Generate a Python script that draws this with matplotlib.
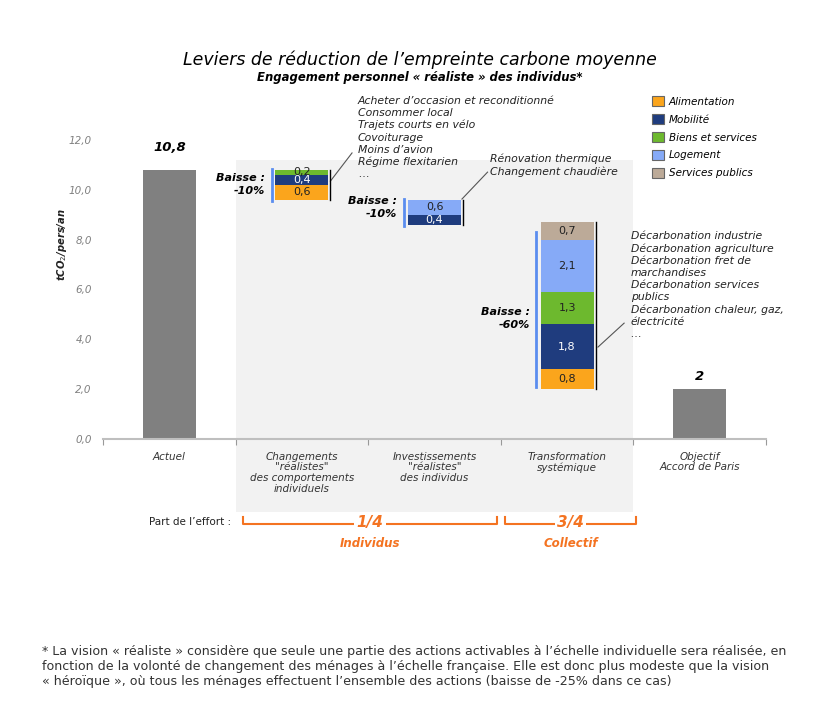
import matplotlib.pyplot as plt
from matplotlib.patches import Rectangle, Patch
import numpy as np

plt.rcParams['font.family'] = ['DejaVu Sans']

# data
categories = ['Actuel', 'Changements\n"réalistes"\ndes comportements\nindividuels',
              'Investissements\n"réalistes"\ndes individus', 'Transformation\nsystémique',
              'Objectif\nAccord de Paris']
actuel = 10.8
objectif = 2.0
sectors = ['Alimentation', 'Mobilité', 'Biens et services', 'Logement', 'Services publics']
colors = ['#FBA51C', '#1F3C7E', '#6DB92E', '#86AAF7', '#BCAA98']
text_colors = ['#222222', 'white', '#222222', '#222222', '#222222']
changements = [0.6, 0.4, 0.2, 0.0, 0.0]
investissements = [0.0, 0.4, 0.0, 0.6, 0.0]
transformation = [0.8, 1.8, 1.3, 2.1, 0.7]
baisse_labels = ['Baisse :\n-10%', 'Baisse :\n-10%', 'Baisse :\n-60%']
notes = [
    'Acheter d\u2019occasion et reconditionné\nConsommer local\nTrajets courts en vélo\n'
    'Covoiturage\nMoins d\u2019avion\nRégime flexitarien\n\u2026',
    'Rénovation thermique\nChangement chaudière',
    'Décarbonation industrie\nDécarbonation agriculture\nDécarbonation fret de\nmarchandises\n'
    'Décarbonation services\npublics\nDécarbonation chaleur, gaz,\nélectricité\n\u2026',
]

fig = plt.figure(figsize=(8.3, 7.16), dpi=100)
ax = fig.add_axes([103 / 830, 1 - 439 / 716, 663 / 830, 299 / 716])
ax.set_xlim(-0.5, 4.5)
ax.set_ylim(0, 12)
width = 0.4

# grey background behind the three levers
ax.add_patch(Rectangle((0.5, -2.93), 3, 14.13, facecolor='#F2F2F2',
                       edgecolor='none', zorder=0, clip_on=False))

# totals
ax.bar([0, 4], [actuel, objectif], width, color='#808080', zorder=2)
for x, v, off in [(0, actuel, 0.65), (4, objectif, 0.25)]:
    ax.text(x, v + off, f'{v:g}'.replace('.', ','), ha='center', va='bottom',
            fontsize=9.5, fontweight='bold', fontstyle='italic', color='black')

# waterfall stacks
stacks = [changements, investissements, transformation]
tops = [actuel, actuel - sum(changements), objectif + sum(transformation)]
bottoms = [actuel - sum(changements), actuel - sum(changements) - sum(investissements), objectif]
for k, vals in enumerate(stacks):
    i = k + 1
    base = bottoms[k]
    for s, v in enumerate(vals):
        if v <= 0:
            continue
        ax.bar(i, v, width, bottom=base, color=colors[s], zorder=2)
        ax.text(i, base + v / 2, f'{v:.1f}'.replace('.', ','), ha='center', va='center',
                fontsize=8, color=text_colors[s], zorder=3)
        base += v

# blue brackets, labels, black lines and leaders
label_y = [10.2, 9.3, 4.85]
for k in range(3):
    i = k + 1
    b, t = bottoms[k], tops[k]
    if k == 2:
        ax.plot([i - 0.235, i - 0.235], [b + 0.1, t - 0.4], color='#5B8DEF', lw=2, zorder=3)
    else:
        ax.plot([i - 0.228, i - 0.228], [b - 0.05, t + 0.05], color='#5B8DEF', lw=2, zorder=3)
    ax.text(i - 0.28, label_y[k], baisse_labels[k], ha='right', va='center',
            multialignment='right', fontsize=8, fontweight='bold', fontstyle='italic',
            linespacing=1.35)
    ax.plot([i + 0.215, i + 0.215], [b, t], color='black', lw=1, zorder=3)

ax.plot([1.215, 1.378], [10.35, 11.48], color='#555555', lw=0.8, clip_on=False)
ax.plot([2.207, 2.40], [9.63, 10.71], color='#555555', lw=0.8, clip_on=False)
ax.plot([3.233, 3.43], [3.69, 4.65], color='#555555', lw=0.8, clip_on=False)

for (x, y), txt in zip([(1.423, 13.78), (2.418, 11.45), (3.48, 8.33)], notes):
    ax.text(x, y, txt, ha='left', va='top', fontsize=7.8, fontstyle='italic',
            color='#222222', linespacing=1.26, clip_on=False)

# axes styling
for side in ['left', 'right', 'top']:
    ax.spines[side].set_visible(False)
ax.spines['bottom'].set_color('#BFBFBF')
ax.spines['bottom'].set_linewidth(1.5)
ax.set_yticks(np.arange(0, 13, 2))
ax.set_yticklabels([f'{v:.1f}'.replace('.', ',') for v in np.arange(0, 13, 2)],
                   fontsize=7.5, fontstyle='italic', color='#808080')
ax.tick_params(axis='y', length=0, pad=8)
ax.set_xticks(np.arange(-0.5, 5, 1))
ax.set_xticklabels([])
ax.tick_params(axis='x', which='major', length=4, color='#999999')
ax.set_xticks(np.arange(5), minor=True)
ax.set_xticklabels(categories, minor=True, fontsize=7.5, fontstyle='italic', color='#333333',
                   linespacing=1.1)
ax.tick_params(axis='x', which='minor', length=0, pad=9)

fig.text(62 / 830, 1 - 245 / 716, r'tCO$_2$/pers/an', rotation=90, ha='center', va='center',
         fontsize=7.2, fontweight='bold', fontstyle='italic', color='#222222')

# titles
fig.text(420 / 830, 1 - 60 / 716, 'Leviers de réduction de l\u2019empreinte carbone moyenne',
         ha='center', va='center', fontsize=12.5, fontstyle='italic', color='black')
fig.text(420 / 830, 1 - 77 / 716, 'Engagement personnel « réaliste » des individus*',
         ha='center', va='center', fontsize=8.4, fontweight='bold', fontstyle='italic')

# legend
handles = [Patch(facecolor=c, edgecolor='#666666', linewidth=0.8) for c in colors]
fig.legend(handles, sectors, loc='upper left', bbox_to_anchor=(643 / 830, 1 - 87 / 716),
           frameon=False, handlelength=1.1, handleheight=1.1, handletextpad=0.5,
           labelspacing=0.7, prop={'size': 7.5, 'style': 'italic'})

# share of effort
orange = '#F47321'
ax.text(0.47, -3.33, 'Part de l\u2019effort :', ha='right', va='center', fontsize=7.5,
        color='#222222', clip_on=False)
for x0, x1, frac, who in [(0.556, 2.471, '1/4', 'Individus'), (2.53, 3.52, '3/4', 'Collectif')]:
    ax.plot([x0, x0, x1, x1], [-3.13, -3.41, -3.41, -3.13], color=orange, lw=1.5, clip_on=False)
    xm = (x0 + x1) / 2
    ax.text(xm, -3.35, frac, ha='center', va='center', fontsize=11, fontweight='bold',
            fontstyle='italic', color=orange, clip_on=False,
            bbox=dict(facecolor='white', edgecolor='none', pad=1.5))
    ax.text(xm, -4.21, who, ha='center', va='center', fontsize=8.5, fontweight='bold',
            fontstyle='italic', color=orange, clip_on=False)

# footnote
fig.text(42 / 830, 1 - 645 / 716,
         '* La vision « réaliste » considère que seule une partie des actions activables à '
         'l\u2019échelle individuelle sera réalisée, en\nfonction de la volonté de changement des '
         'ménages à l\u2019échelle française. Elle est donc plus modeste que la vision\n« héroïque », '
         'où tous les ménages effectuent l\u2019ensemble des actions (baisse de -25% dans ce cas)',
         ha='left', va='top', fontsize=9.1, color='#333333', linespacing=1.2)

fig.savefig('out.png', dpi=100)
